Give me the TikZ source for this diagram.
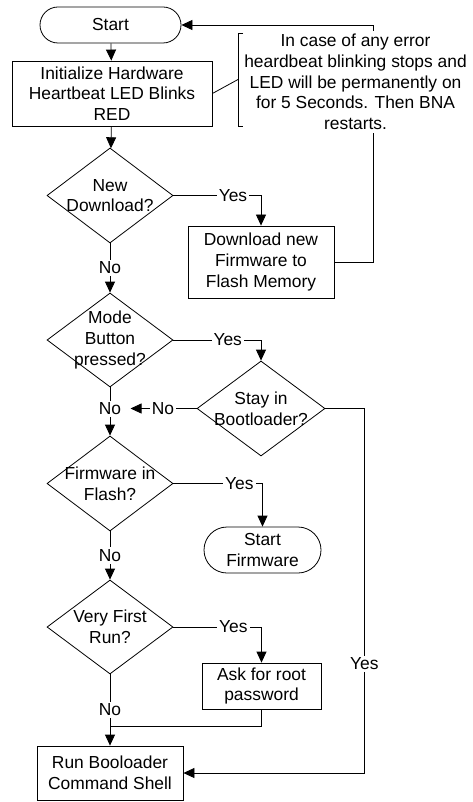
\documentclass[tikz,border=0pt]{standalone}
\usepackage{fontspec}
\setmainfont{Liberation Sans}
\usetikzlibrary{shapes.geometric, shapes.misc, arrows.meta, calc}

\begin{document}
\begin{tikzpicture}[x=1pt, y=-1pt,
	every node/.style={font=\fontsize{17.4}{20.7}\selectfont, align=center},
	flow/.style={line width=.8pt, black},
	arr/.style={flow, -{Triangle[width=10pt, length=11pt]}},
	box/.style={draw, line width=.8pt, rectangle, inner sep=2pt},
	term/.style={draw, line width=.8pt, rounded rectangle, inner sep=2pt},
	decision/.style={draw, line width=.8pt, diamond, inner sep=0pt, minimum width=126pt, minimum height=95pt},
	lbl/.style={fill=white, inner sep=2pt}
	]
	\useasboundingbox (0,0) rectangle (473,802);
	
	% main column
	\node (start) at (110.5,25) [term, minimum width=145pt, minimum height=36pt] {Start};
	\node (init) at (112,93.5) [box, minimum width=200pt, minimum height=65pt] {Initialize Hardware\\Heartbeat LED Blinks\\RED};
	
	\node (d1) at (110,195.5) [decision] {};
	\node (d1t) at (d1) {New\\Download?};
	
	\node (dl) at (261,262) [box, minimum width=146pt, minimum height=72pt] {Download new\\Firmware to\\Flash Memory};
	
	\node (d2) at (110,340) [decision, minimum height=94pt] {};
	\node (d2t) at (d2) {Mode\\Button\\pressed?};
	
	\node (d3) at (261,408.5) [decision, minimum width=128pt] {};
	\node (d3t) at (d3) {Stay in\\Bootloader?};
	
	\node (d4) at (110,483.5) [decision] {};
	\node (d4t) at (d4) {Firmware in\\Flash?};
	
	\node (sf) at (262.5,550) [term, minimum width=121pt, minimum height=46pt] {Start\\Firmware};
	
	\node (d5) at (110,627) [decision, minimum height=94pt] {};
	\node (d5t) at (d5) {Very First\\Run?};
	
	\node (ask) at (261.5,686) [box, minimum width=119pt, minimum height=46pt] {Ask for root\\password};
	
	\node (run) at (110,773) [box, minimum width=146pt, minimum height=54pt] {Run Booloader\\Command Shell};
	
	% connectors
	\draw [arr] (start) -- (init);
	\draw [arr] (init) -- (d1);
	\draw [arr] (d1.east) -| node [lbl, pos=.34] {Yes} (dl.north);
	\draw [arr] (d1.south) -- node [lbl] {No} (d2.north);
	\draw [arr] (dl.east) -- ++(39,0) |- (start.east);
	
	\draw [arr] (d2.east) -| node [lbl, pos=.31] {Yes} (d3.north);
	\draw [arr] (d2.south) -- node [lbl, pos=.44] (no2) {No} (d4.north);
	\draw [arr, shorten >=7pt] (d3.west) -- node [lbl, pos=.46] {No} (d3.west -| no2.east);
	\draw [arr] (d3.east) -- ++(39,0) |- node [lbl, pos=.35] {Yes} (run.east);
	
	\draw [arr] (d4.east) -| node [lbl, pos=.37] {Yes} (sf.north);
	\draw [arr] (d4.south) -- node [lbl] {No} (d5.north);
	
	\draw [arr] (d5.east) -| node [lbl, pos=.34] {Yes} (ask.north);
	\draw [arr] (d5.south) -- node [lbl] {No} (run.north);
	\coordinate (m5) at (110,726);
	\draw [flow] (ask.south) |- (m5);
	
	% comment
	\node (note) at (355.5,82) [fill=white, inner sep=3pt] {In case of any error\\heardbeat blinking stops and\\LED will be permanently on\\for 5 Seconds. Then BNA\\restarts.};
	\coordinate (bt) at (238,33);
	\coordinate (bb) at (238,126);
	\draw [flow] ([xshift=5pt]bt) -- (bt) -- (bb) -- ([xshift=5pt]bb);
	\draw [flow] (init.east) -- ($(bt)!.5!(bb)$);
\end{tikzpicture}
\end{document}
